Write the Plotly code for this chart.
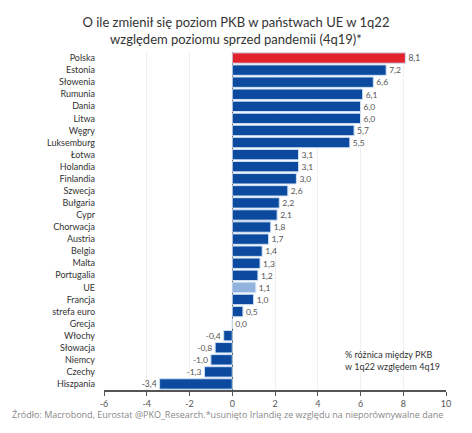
import plotly.graph_objects as go

countries = [
    "Polska", "Estonia", "Słowenia", "Rumunia", "Dania", "Litwa", "Węgry",
    "Luksemburg", "Łotwa", "Holandia", "Finlandia", "Szwecja", "Bułgaria",
    "Cypr", "Chorwacja", "Austria", "Belgia", "Malta", "Portugalia", "UE",
    "Francja", "strefa euro", "Grecja", "Włochy", "Słowacja", "Niemcy",
    "Czechy", "Hiszpania",
]
change = [
    8.1, 7.2, 6.6, 6.1, 6.0, 6.0, 5.7, 5.5, 3.1, 3.1, 3.0, 2.6, 2.2, 2.1,
    1.8, 1.7, 1.4, 1.3, 1.2, 1.1, 1.0, 0.5, 0.0, -0.4, -0.8, -1.0, -1.3, -3.4,
]
x_ticks = [-6, -4, -2, 0, 2, 4, 6, 8, 10]

FONT = "Lato"
BLUE = "#0b4a9e"
colors = []
for c in countries:
    if c == "Polska":
        colors.append("#e3232c")
    elif c == "UE":
        colors.append("#93b2de")
    else:
        colors.append(BLUE)

fig = go.Figure(
    go.Bar(
        x=change,
        y=countries,
        orientation="h",
        marker=dict(color=colors, line=dict(color="#cfe0f5", width=1)),
        text=[f"{v:.1f}".replace(".", ",") for v in change],
        textposition="outside",
        textfont=dict(size=9, color="#555555", family=FONT),
        cliponaxis=False,
    )
)

# page body adds ~8px offset, margins are shifted to compensate
fig.update_layout(
    width=472,
    height=433,
    margin=dict(l=96, r=34, t=44, b=51),
    paper_bgcolor="white",
    plot_bgcolor="white",
    bargap=0.14,
    showlegend=False,
    font=dict(family=FONT, color="#333333"),
    title=dict(
        text="O ile zmienił się poziom PKB w państwach UE w 1q22<br>względem poziomu sprzed pandemii (4q19)*",
        x=0.483,
        xanchor="center",
        y=0.955,
        yanchor="top",
        font=dict(size=13, color="#333333", family=FONT),
    ),
    xaxis=dict(
        range=[-6, 10],
        tickvals=x_ticks,
        ticktext=[str(t) for t in x_ticks],
        showgrid=True,
        gridcolor="#f0f0f0",
        zeroline=True,
        zerolinecolor="#444444",
        zerolinewidth=1,
        showline=True,
        linecolor="#555555",
        linewidth=1.5,
        ticks="outside",
        ticklen=4,
        tickcolor="#555555",
        tickfont=dict(size=9, color="#555555"),
    ),
    yaxis=dict(
        autorange="reversed",
        tickfont=dict(size=9, color="#333333"),
        ticks="",
        showgrid=False,
        ticklabelstandoff=8,
    ),
    annotations=[
        dict(
            text="% różnica między PKB<br>w 1q22 względem 4q19",
            xref="paper", yref="paper",
            x=0.70, y=0.127,
            xanchor="left", yanchor="top",
            align="left", showarrow=False,
            font=dict(size=9, color="#333333"),
        ),
        dict(
            text="Źródło: Macrobond, Eurostat @PKO_Research.*usunięto Irlandię ze względu na nieporównywalne dane",
            xref="paper", yref="paper",
            x=-0.274, y=-0.072,
            xanchor="left", yanchor="middle",
            showarrow=False,
            font=dict(size=9, color="#888888", family="Open Sans"),
        ),
    ],
)

fig.write_html("out.html")
